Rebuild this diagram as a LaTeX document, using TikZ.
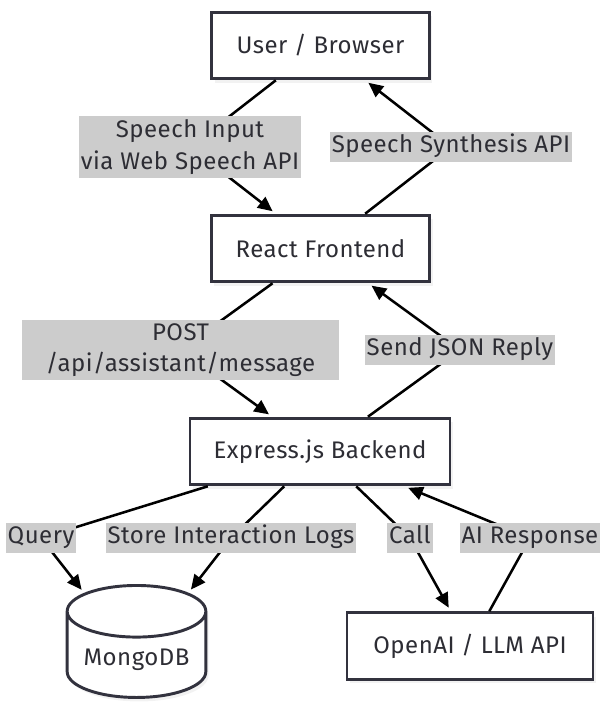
\documentclass[tikz,border=0pt]{standalone}
\usepackage{fontspec}
\setmainfont{Fira Sans}[LetterSpace=2.0]
\usetikzlibrary{arrows.meta,shapes.geometric,shadows}

\definecolor{boxline}{RGB}{50,50,62}
\definecolor{labgray}{RGB}{204,204,204}
\definecolor{textgray}{RGB}{45,45,52}

\begin{document}
\begin{tikzpicture}[x=0.75pt, y=-0.75pt,
  font=\fontsize{18}{23.5}\selectfont, text=textgray,
  box/.style={draw=boxline, line width=2.2pt, fill=white, minimum height=50pt,
    drop shadow={shadow xshift=2pt, shadow yshift=-3pt, opacity=0.1}},
  lab/.style={fill=labgray, inner xsep=1.5pt, inner ysep=2.6pt, align=center},
  lone/.style={lab, text height=12.8pt, text depth=4.2pt},
  edge/.style={line width=1.9pt, black, -{Triangle[length=11pt,width=10pt]}, shorten >=3pt}]

\useasboundingbox (0,0) rectangle (600,702);

% components
\node [box, minimum width=163pt] (user) at (320.5,45.5) {User / Browser};
\node [box, minimum width=164pt] (front) at (320.5,248.5) {React Frontend};
\node [box, minimum width=195pt] (back) at (320,451.5) {Express.js Backend};
\node [box, minimum width=184.5pt] (llm) at (470,646) {OpenAI / LLM API};
\node [cylinder, shape border rotate=90, aspect=0.45, draw=boxline, line width=2.2pt,
  fill=white, minimum width=104pt, minimum height=84pt, anchor=north,
  drop shadow={shadow xshift=2pt, shadow yshift=-3pt, opacity=0.1}]
  (mongo) at (136.5,584) {MongoDB};

% bends (labels sit on them)
\coordinate (b1) at (190,147);
\coordinate (b2) at (451,147);
\coordinate (b3) at (180.5,350);
\coordinate (b4) at (460,350);
\coordinate (b5) at (41,538);
\coordinate (b6) at (231,538);
\coordinate (b7) at (410,538);
\coordinate (b8) at (530,538);

\draw [edge] (user) -- (b1) -- (front);
\draw [edge] (front) -- (b2) -- (user);
\draw [edge] (front) -- (b3) -- (back);
\draw [edge] (back) -- (b4) -- (front);
\draw [edge] (back) -- (b5) -- (mongo);
\draw [edge] (back) -- (b6) -- (mongo);
\draw [edge] (back) -- (b7) -- (llm);
\draw [edge] (llm) -- (b8) -- (back);

% labels
\node [lab] (lspeech) at (b1) {Speech Input\\via Web Speech API};
\node [lone] (lsynth) at (b2) {Speech Synthesis API};
\node [lab, minimum width=238pt] (lpost) at (b3) {POST\\/api/assistant/message};
\node [lone] (ljson) at (b4) {Send JSON Reply};
\node [lone] (lquery) at (b5) {Query};
\node [lone] (lstore) at (b6) {Store Interaction Logs};
\node [lone] (lcall) at (b7) {Call};
\node [lone] (lresp) at (b8) {AI Response};

\end{tikzpicture}
\end{document}
